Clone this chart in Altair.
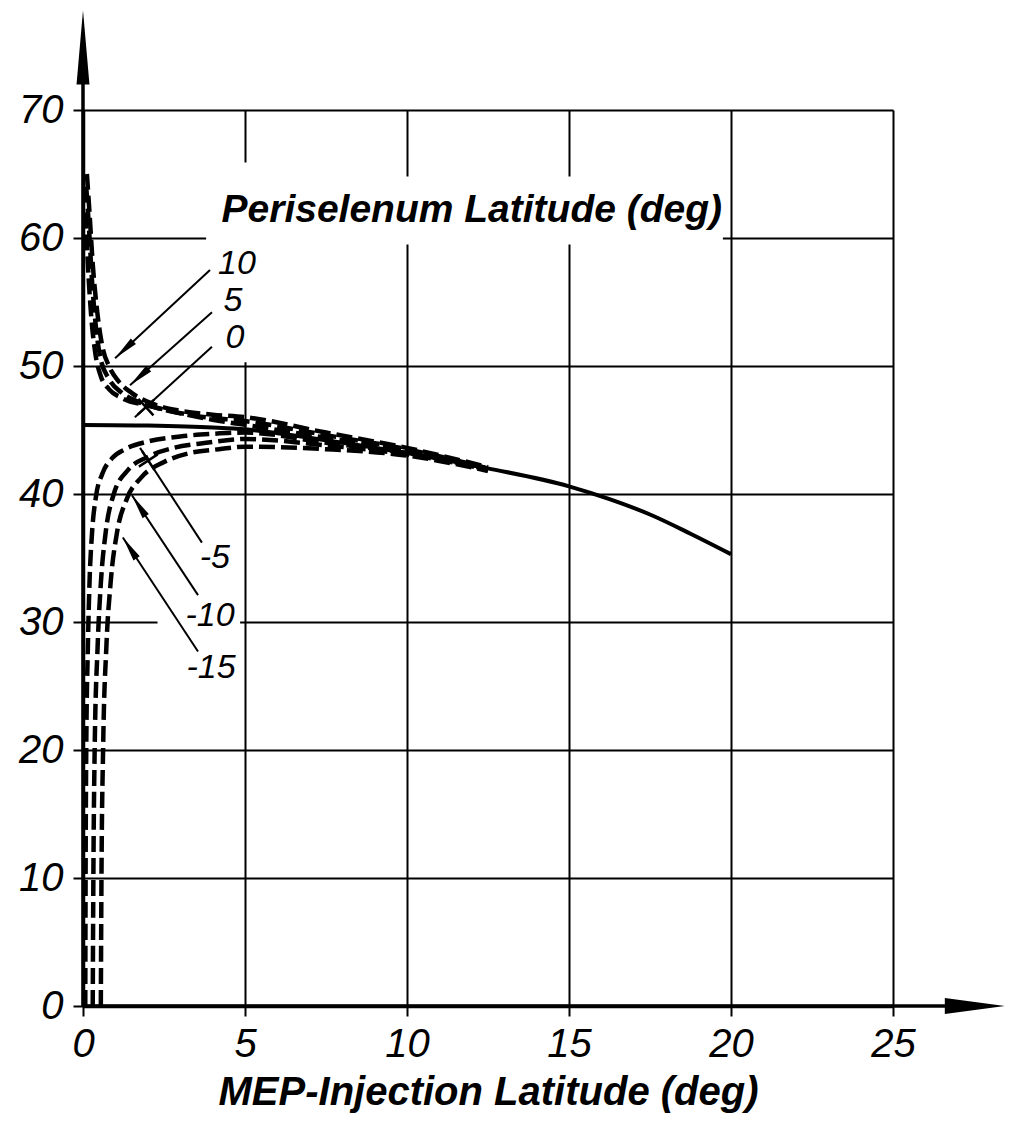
import math
import altair as alt
import pandas as pd

# ---------------- data ----------------
X_TICKS = [0, 5, 10, 15, 20, 25]
Y_TICKS = [0, 10, 20, 30, 40, 50, 60, 70]
X_TITLE = "MEP-Injection Latitude (deg)"
FAMILY_TITLE = "Periselenum Latitude (deg)"

# common (solid) curve
main_x = [0.0, 2.0, 4.0, 5.0, 6.0, 7.5, 10.0, 12.5, 15.0, 16.25, 17.5, 18.75, 20.0]
main_y = [45.4, 45.35, 45.2, 45.05, 44.75, 44.2, 43.2, 42.0, 40.6, 39.6, 38.4, 36.9, 35.3]

# dashed curves, one per periselenum latitude
c10_x = [0.12, 0.2, 0.3, 0.45, 0.6, 0.8, 1.1, 1.5, 2.2, 3.0, 4.0, 5.0, 7.5, 10.0, 12.5]
c10_y = [65.0, 62.0, 58.0, 54.0, 51.5, 50.0, 48.8, 47.9, 47.0, 46.5, 46.2, 46.0, 44.8, 43.6, 42.1]
c5_x = [0.1, 0.18, 0.27, 0.4, 0.55, 0.8, 1.2, 1.7, 2.5, 3.5, 5.0, 7.5, 10.0, 12.5]
c5_y = [64.0, 61.0, 57.0, 53.0, 50.5, 49.0, 47.9, 47.2, 46.6, 46.1, 45.7, 44.6, 43.5, 42.0]
c0_x = [0.08, 0.15, 0.25, 0.38, 0.55, 0.8, 1.2, 2.0, 3.0, 4.0, 5.0, 7.5, 10.0, 12.5]
c0_y = [62.0, 58.0, 54.0, 51.0, 49.2, 48.2, 47.5, 46.9, 46.3, 45.8, 45.4, 44.4, 43.4, 42.0]
cm5_x = [0.07, 0.08, 0.1, 0.15, 0.2, 0.28, 0.4, 0.6, 0.9, 1.3, 2.0, 3.0, 4.0, 5.0, 7.5, 10.0, 12.5]
cm5_y = [0.0, 10.0, 20.0, 28.0, 33.0, 37.0, 39.8, 41.6, 42.8, 43.5, 44.1, 44.5, 44.7, 44.8, 44.0, 43.2, 41.9]
cm10_x = [0.3, 0.32, 0.36, 0.45, 0.55, 0.7, 0.95, 1.4, 2.0, 2.8, 3.8, 5.0, 7.5, 10.0, 12.5]
cm10_y = [0.0, 10.0, 20.0, 28.0, 33.0, 37.0, 40.0, 41.9, 42.9, 43.6, 44.0, 44.3, 43.8, 43.1, 41.9]
cm15_x = [0.55, 0.57, 0.62, 0.72, 0.85, 1.05, 1.35, 1.8, 2.5, 3.3, 4.2, 5.0, 7.5, 10.0, 12.5]
cm15_y = [0.0, 10.0, 20.0, 28.0, 33.0, 37.0, 39.6, 41.3, 42.5, 43.2, 43.5, 43.7, 43.5, 43.0, 41.8]

curve_names = ["10", "5", "0", "-5", "-10", "-15"]
curve_xs = [c10_x, c5_x, c0_x, cm5_x, cm10_x, cm15_x]
curve_ys = [c10_y, c5_y, c0_y, cm5_y, cm10_y, cm15_y]

# curve labels and their leader arrows
label_text = ["10", "5", "0", "-5", "-10", "-15"]
label_x = [4.75, 4.63, 4.69, 4.07, 3.92, 3.95]
label_y = [58.0, 55.1, 52.2, 35.0, 30.5, 26.4]
arrow_x0 = [3.92, 3.98, 3.98, 3.67, 3.55, 3.55]
arrow_y0 = [57.5, 54.2, 51.5, 36.2, 32.1, 27.7]
arrow_x1 = [0.99, 1.45, 1.6, 1.76, 1.51, 1.23]
arrow_y1 = [50.6, 48.5, 46.0, 43.6, 39.9, 36.6]
arrow_head = ["wedge", "wedge", "cross", "cross", "wedge", "wedge"]

family_title_x = 12.0
family_title_y = 62.2

# white breaks in the grid behind lettering
mask_x0 = [3.8, 4.8, 2.3]
mask_x1 = [19.75, 5.2, 4.85]
mask_y0 = [59.5, 50.3, 29.5]
mask_y1 = [64.8, 65.9, 30.5]

# axis arrow extents
x_axis_end = 26.7
x_arrow_tip = 28.45
x_arrow_half = 0.62
y_axis_end = 72.1
y_arrow_tip = 77.8
y_arrow_half = 0.2

# ---------------- geometry helpers ----------------
W, H = 810, 896
PX_X = W / 25.0
PX_Y = H / 70.0
FONT = "Liberation Sans"

xscale = alt.Scale(domain=[0, 25], nice=False, zero=False)
yscale = alt.Scale(domain=[0, 70], nice=False, zero=False)

xaxis = alt.Axis(values=X_TICKS, title=X_TITLE, grid=True, gridColor="black", gridWidth=2,
                 gridOpacity=1, domainColor="black", domainWidth=3.5, tickColor="black",
                 tickWidth=2, tickSize=10, labelFont=FONT, labelFontStyle="italic",
                 labelFontSize=40, labelColor="black", labelPadding=8, labelFlush=False,
                 titleFont=FONT, titleFontStyle="italic", titleFontWeight="bold",
                 titleFontSize=40, titleColor="black", titlePadding=8)
yaxis = alt.Axis(values=Y_TICKS, title=None, grid=True, gridColor="black", gridWidth=2,
                 gridOpacity=1, domainColor="black", domainWidth=3.5, tickColor="black",
                 tickWidth=2, tickSize=10, labelFont=FONT, labelFontStyle="italic",
                 labelFontSize=40, labelColor="black", labelPadding=10, labelFlush=False)


def X(f):
    return alt.X(f, type="quantitative", scale=xscale, axis=xaxis)


def Y(f):
    return alt.Y(f, type="quantitative", scale=yscale, axis=yaxis)


# ---------------- tables ----------------
rows = []
for name, xs, ys in zip(curve_names, curve_xs, curve_ys):
    for i, (a, b) in enumerate(zip(xs, ys)):
        rows.append({"curve": name, "x": a, "y": b, "o": i})
curves_df = pd.DataFrame(rows)
main_df = pd.DataFrame({"x": main_x, "y": main_y, "o": list(range(len(main_x)))})

masks_df = pd.DataFrame({"x": mask_x0, "x2": mask_x1, "y": mask_y0, "y2": mask_y1})

arrows_df = pd.DataFrame({"x": arrow_x0, "y": arrow_y0, "x2": arrow_x1, "y2": arrow_y1})

heads = []
for x0, y0, x1, y1, kind in zip(arrow_x0, arrow_y0, arrow_x1, arrow_y1, arrow_head):
    dx = (x1 - x0) * PX_X
    dy = -(y1 - y0) * PX_Y
    L = math.hypot(dx, dy)
    ux, uy = dx / L, dy / L
    back = 12.5 if kind == "wedge" else 15.0
    hx = x1 - ux * back / PX_X
    hy = y1 + uy * back / PX_Y
    ang = math.degrees(math.atan2(dx, -dy)) % 360
    heads.append({"x": hx, "y": hy, "angle": ang, "kind": kind})
heads_df = pd.DataFrame(heads)

labels_df = pd.DataFrame({"x": label_x, "y": label_y, "t": label_text})
title_df = pd.DataFrame({"x": [family_title_x], "y": [family_title_y], "t": [FAMILY_TITLE]})

xline_df = pd.DataFrame({"x": [0], "x2": [x_axis_end], "y": [0]})
yline_df = pd.DataFrame({"x": [0], "y": [0], "y2": [y_axis_end]})
xarrow_df = pd.DataFrame({"x": [x_axis_end - 0.1, x_arrow_tip],
                          "y": [-x_arrow_half, 0], "y2": [x_arrow_half, 0]})
yarrow_df = pd.DataFrame({"y": [y_axis_end - 0.1, y_arrow_tip],
                          "x": [-y_arrow_half, 0], "x2": [y_arrow_half, 0]})

# ---------------- layers ----------------
masks = alt.Chart(masks_df).mark_rect(color="white", strokeWidth=0).encode(
    x=X("x"), x2="x2", y=Y("y"), y2="y2")

dashed = alt.Chart(curves_df).mark_line(color="black", strokeWidth=4.5, strokeDash=[16, 6],
                                         strokeCap="butt", interpolate="monotone").encode(
    x=X("x"), y=Y("y"), detail="curve:N", order="o:Q")

solid = alt.Chart(main_df).mark_line(color="black", strokeWidth=4,
                                     interpolate="monotone").encode(
    x=X("x"), y=Y("y"), order="o:Q")

arrows = alt.Chart(arrows_df).mark_rule(color="black", strokeWidth=2).encode(
    x=X("x"), y=Y("y"), x2="x2", y2="y2")

wedges = alt.Chart(heads_df).transform_filter(alt.datum.kind == "wedge").mark_point(
    shape="M0,-1L0.3,1L-0.3,1Z", filled=True, color="black", opacity=1, size=625).encode(
    x=X("x"), y=Y("y"), angle=alt.Angle("angle:Q", scale=None))

crosses = alt.Chart(heads_df).transform_filter(alt.datum.kind == "cross").mark_point(
    shape="M0,-1L0,1M-1,0L1,0", filled=False, color="black", opacity=1, strokeWidth=2.5,
    size=500).encode(
    x=X("x"), y=Y("y"), angle=alt.Angle("angle:Q", scale=None))

labels = alt.Chart(labels_df).mark_text(font=FONT, fontStyle="italic", fontSize=34,
                                         color="black", align="center",
                                         baseline="middle").encode(
    x=X("x"), y=Y("y"), text="t:N")

ftitle = alt.Chart(title_df).mark_text(font=FONT, fontStyle="italic", fontWeight="bold",
                                        fontSize=39, color="black", align="center",
                                        baseline="middle").encode(
    x=X("x"), y=Y("y"), text="t:N")

xline = alt.Chart(xline_df).mark_rule(color="black", strokeWidth=3.5).encode(
    x=X("x"), x2="x2", y=Y("y"))
yline = alt.Chart(yline_df).mark_rule(color="black", strokeWidth=3.5).encode(
    x=X("x"), y=Y("y"), y2="y2")
xarrow = alt.Chart(xarrow_df).mark_area(color="black", opacity=1).encode(
    x=X("x"), y=Y("y"), y2="y2")
yarrow = alt.Chart(yarrow_df).mark_area(color="black", opacity=1, orient="horizontal").encode(
    y=Y("y"), x=X("x"), x2="x2")

chart = alt.layer(masks, dashed, solid, arrows, wedges, crosses, labels, ftitle,
                  xline, yline, xarrow, yarrow).properties(
    width=W, height=H,
    autosize=alt.AutoSizeParams(type="none"),
    padding={"left": 83, "top": 110, "right": 120, "bottom": 120},
    background="white",
).configure_view(stroke=None)

chart.save("out.html", embed_options={"renderer": "svg", "actions": False})
